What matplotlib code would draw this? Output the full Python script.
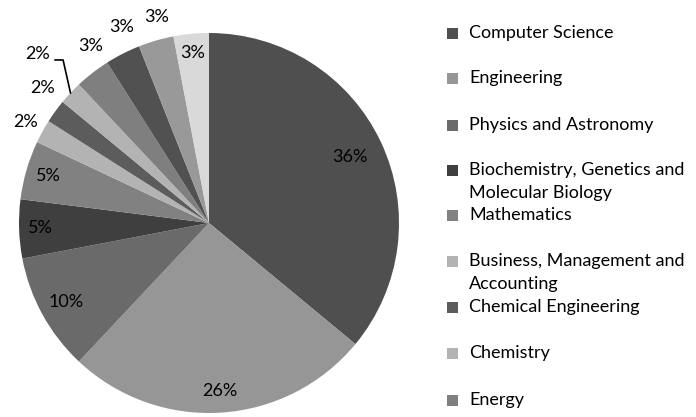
import numpy as np
import matplotlib.pyplot as plt
from matplotlib.patches import Rectangle

plt.rcParams["font.family"] = ["Lato", "DejaVu Sans"]

# slice values (percent), clockwise from 12 o'clock
subjects = ["Computer Science", "Engineering", "Physics and Astronomy",
            "Biochemistry, Genetics and\nMolecular Biology", "Mathematics",
            "Business, Management and\nAccounting", "Chemical Engineering",
            "Chemistry", "Energy", "Other 1", "Other 2", "Other 3"]
shares = [36, 26, 10, 5, 5, 2, 2, 2, 3, 3, 3, 3]
pct_labels = ["36%", "26%", "10%", "5%", "5%", "2%", "2%", "2%", "3%", "3%", "3%", "3%"]
grays = ["#4f4f4f", "#969696", "#6a6a6a", "#3f3f3f", "#818181", "#b3b3b3",
         "#5c5c5c", "#b3b3b3", "#7f7f7f", "#515151", "#999999", "#d9d9d9"]
n_legend = 9

# label distance from centre (in radii) and small angle nudges (deg)
label_r = [0.82, 0.885, 0.86, 0.89, 0.88, 1.1, 1.13, 1.27, 1.12, 1.13, 1.12, 0.9]
label_shift = [0, 0, 0, 0, 0, 0, -3, 0, -4, -3, -2, 0]

W, H = 696, 417
fig = plt.figure(figsize=(W / 100, H / 100), dpi=100)
cx, cy, R = 209, 223, 190
ax = fig.add_axes([(cx - R) / W, (H - cy - R) / H, 2 * R / W, 2 * R / H])
wedges, _ = ax.pie(shares, colors=grays, startangle=90, counterclock=False,
                   wedgeprops=dict(linewidth=0))
ax.set_xlim(-1, 1)
ax.set_ylim(-1, 1)
ax.set_aspect("equal")

for i, w in enumerate(wedges):
    mid = np.deg2rad((w.theta1 + w.theta2) / 2 + label_shift[i])
    r = label_r[i]
    x, y = r * np.cos(mid), r * np.sin(mid)
    if i == 7:
        # leader line for the small chemistry slice
        ex, ey = np.cos(mid), np.sin(mid)
        ax.plot([ex, -0.768, -0.81], [ey, 0.858, 0.858], color="black", lw=1.2,
                clip_on=False)
        x, y = -0.9, 0.89
    ax.text(x, y, pct_labels[i], ha="center", va="center", fontsize=13,
            color="black")

# legend drawn Excel style: fixed row pitch, long labels spill downward
leg_y = [33, 78, 125, 170, 215, 261, 307, 353, 400]
for i in range(n_legend):
    yc = leg_y[i]
    fig.patches.append(Rectangle((447 / W, (H - yc - 5.5) / H), 11 / W, 11 / H,
                                 transform=fig.transFigure,
                                 facecolor=grays[i], edgecolor="none"))
    for k, line in enumerate(subjects[i].split("\n")):
        fig.text(469 / W, (H - yc - 23 * k) / H, line, ha="left", va="center",
                 fontsize=13, color="black")

fig.savefig("out.png", dpi=100)
